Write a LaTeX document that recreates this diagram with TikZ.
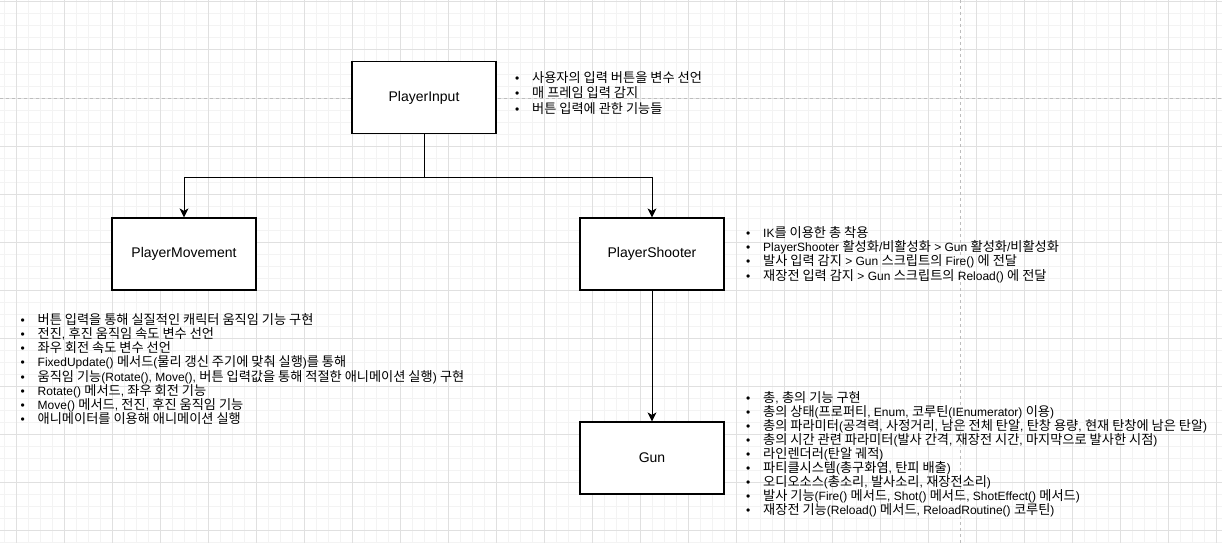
\documentclass[tikz,border=0pt]{standalone}
\usepackage{fontspec}
\setmainfont{Liberation Sans}
\newfontfamily\krfont[Scale=1.1]{Noto Sans CJK KR}
\newcommand\kr[1]{{\krfont #1}}
\usetikzlibrary{arrows.meta}
\definecolor{minorgrid}{HTML}{F3F3F3}
\definecolor{majorgrid}{HTML}{E0E0E0}
\definecolor{pagebreak}{HTML}{BDBDBD}
\newcommand\blist[5]{\foreach \t [count=\i from 0] in {#5}{\node[item] (#3\i) at (#1,{#2+\i*#4}) {\t};}}
\begin{document}
\begin{tikzpicture}[x=1pt,y=-1pt,
  box/.style={draw, line width=1.2pt, fill=white, minimum width=144pt, minimum height=72pt, inner sep=0pt, font=\fontsize{14}{16}\selectfont},
  arr/.style={draw, line width=1pt, -{Stealth[length=9pt,width=9pt,inset=2.5pt]}},
  item/.style={anchor=base west, inner sep=0pt, font=\fontsize{12}{14}\selectfont, execute at begin node={\llap{\textbullet\hspace{12.9pt}}}},
  minor/.style={draw=minorgrid, line width=1pt},
  major/.style={draw=majorgrid, line width=1pt},
  pbreak/.style={draw=pagebreak, line width=1pt, dash pattern=on 3pt off 3pt}]
\useasboundingbox[fill=white] (0,0) rectangle (1222,543);
% grid
\foreach \x in {4,16,...,1222} \draw[minor] (\x,0) -- (\x,543);
\foreach \y in {2,14,...,543} \draw[minor] (0,\y) -- (1222,\y);
\foreach \x in {16,64,...,1222} \draw[major] (\x,0) -- (\x,543);
\foreach \y in {2,50,...,543} \draw[major] (0,\y) -- (1222,\y);
\draw[pbreak] (0,98) -- (1222,98);
\draw[pbreak] (960,0) -- (960,543);
% boxes
\node[box] (pi) at (424,97.5) {PlayerInput};
\node[box] (pm) at (184,254) {PlayerMovement};
\node[box] (ps) at (652,254) {PlayerShooter};
\node[box] (gun) at (652,458) {Gun};
% connectors
\draw[arr] (pi.south) -- ++(0,43) -| (pm.north);
\draw[arr] (pi.south) -- ++(0,43) -| (ps.north);
\draw[arr] (ps.south) -- (gun.north);
% lists
\blist{532}{82}{lpi}{15.5}{{\kr{사용자의 입력 버튼을 변수 선언}},{\kr{매 프레임 입력 감지}},{\kr{버튼 입력에 관한 기능들}}}
\blist{763}{237}{lps}{14.4}{{IK\kr{를 이용한 총 착용}},{PlayerShooter \kr{활성화}/\kr{비활성화} > Gun \kr{활성화}/\kr{비활성화}},{\kr{발사 입력 감지} > Gun \kr{스크립트의} Fire() \kr{에 전달}},{\kr{재장전 입력 감지} > Gun \kr{스크립트의} Reload() \kr{에 전달}}}
\blist{37.5}{324.5}{lpm}{14.15}{{\kr{버튼 입력을 통해 실질적인 캐릭터 움직임 기능 구현}},{\kr{전진}, \kr{후진 움직임 속도 변수 선언}},{\kr{좌우 회전 속도 변수 선언}},{FixedUpdate() \kr{메서드}(\kr{물리 갱신 주기에 맞춰 실행})\kr{를 통해}},{\kr{움직임 기능}(Rotate(), Move(), \kr{버튼 입력값을 통해 적절한 애니메이션 실행}) \kr{구현}},{Rotate() \kr{메서드}, \kr{좌우 회전 기능}},{Move() \kr{메서드}, \kr{전진}, \kr{후진 움직임 기능}},{\kr{애니메이터를 이용해 애니메이션 실행}}}
\blist{763}{402}{lgun}{14.05}{{\kr{총}, \kr{총의 기능 구현}},{\kr{총의 상태}(\kr{프로퍼티}, Enum, \kr{코루틴}(IEnumerator) \kr{이용})},{\kr{총의 파라미터}(\kr{공격력}, \kr{사정거리}, \kr{남은 전체 탄알}, \kr{탄창 용량}, \kr{현재 탄창에 남은 탄알})},{\kr{총의 시간 관련 파라미터}(\kr{발사 간격}, \kr{재장전 시간}, \kr{마지막으로 발사한 시점})},{\kr{라인렌더러}(\kr{탄알 궤적})},{\kr{파티클시스템}(\kr{총구화염}, \kr{탄피 배출})},{\kr{오디오소스}(\kr{총소리}, \kr{발사소리}, \kr{재장전소리})},{\kr{발사 기능}(Fire() \kr{메서드}, Shot() \kr{메서드}, ShotEffect() \kr{메서드})},{\kr{재장전 기능}(Reload() \kr{메서드}, ReloadRoutine() \kr{코루틴})}}
\end{tikzpicture}
\end{document}
